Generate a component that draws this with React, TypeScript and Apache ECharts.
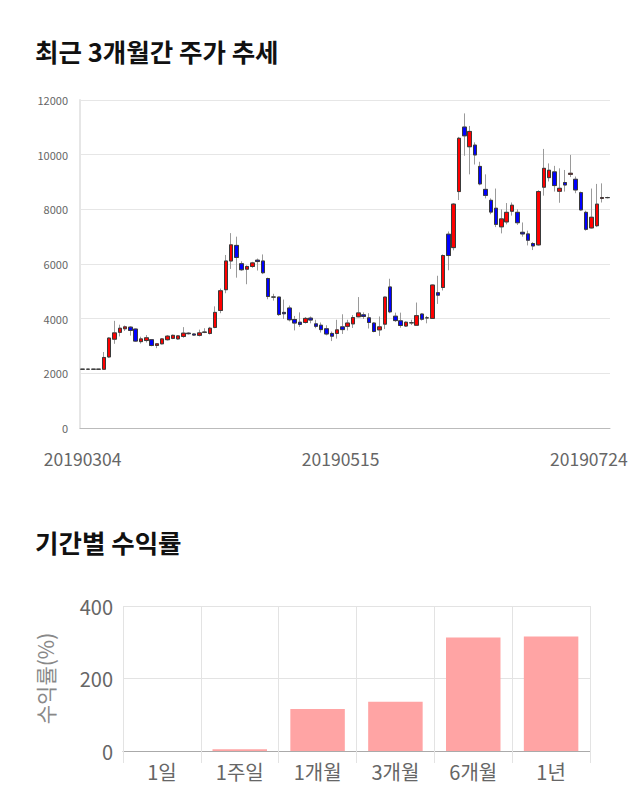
import React, { useEffect, useRef } from "react";
import * as echarts from "echarts";

const dates: string[] = [
  "20190304","20190305","20190306","20190307","20190308","20190311","20190312","20190313","20190314","20190315",
  "20190318","20190319","20190320","20190321","20190322","20190325","20190326","20190327","20190328","20190329",
  "20190401","20190402","20190403","20190404","20190405","20190408","20190409","20190410","20190411","20190412",
  "20190415","20190416","20190417","20190418","20190419","20190422","20190423","20190424","20190425","20190426",
  "20190429","20190430","20190502","20190503","20190507","20190508","20190509","20190510","20190513","20190514",
  "20190515","20190516","20190517","20190520","20190521","20190522","20190523","20190524","20190527","20190528",
  "20190529","20190530","20190531","20190603","20190604","20190605","20190607","20190610","20190611","20190612",
  "20190613","20190614","20190617","20190618","20190619","20190620","20190621","20190624","20190625","20190626",
  "20190627","20190628","20190701","20190702","20190703","20190704","20190705","20190708","20190709","20190710",
  "20190711","20190712","20190715","20190716","20190717","20190718","20190719","20190722","20190723","20190724",
];

const openP: number[] = [
  2150,2150,2150,2150,2150,2600,3250,3500,3630,3690,
  3620,3160,3200,3230,3020,3080,3230,3280,3260,3350,
  3470,3440,3390,3500,3460,3680,4300,5060,6110,6680,
  6010,5810,5910,6140,6110,5470,4790,4790,4230,4390,
  3970,3870,3860,4020,3810,3760,3630,3460,3460,3700,
  3720,3810,4070,4140,4030,3840,3590,3800,5160,4090,
  3920,3730,3850,3760,4170,4030,4010,4950,5140,7090,
  6600,8650,11010,10290,10350,9570,8730,8330,8040,7360,
  7540,7930,7890,7160,7100,6750,6700,8810,9160,9370,
  8660,8980,9280,9100,8610,7890,7320,7400,8400,8430,
];
const closeP: number[] = [
  2150,2150,2150,2150,2580,3290,3480,3650,3700,3570,
  3180,3260,3300,3020,3080,3260,3360,3390,3370,3470,
  3450,3400,3480,3510,3650,4230,5020,6110,6700,6240,
  5790,5910,6040,6090,5680,4810,4790,4150,4180,3960,
  3840,3790,4010,3950,3720,3600,3440,3360,3590,3600,
  3840,4040,4210,4080,3860,3530,3700,4790,4250,3930,
  3750,3870,3850,4110,3980,4030,5230,4860,6310,6310,
  8190,10600,10690,10850,9990,8930,8510,7900,7450,7650,
  7890,8150,7510,7100,6870,6660,8650,9500,9430,8870,
  8770,8890,9320,8710,7980,7270,7710,8190,8430,8430,
];
const lowP: number[] = [
  2140,2140,2140,2140,2130,2560,3080,3350,3550,3380,
  3150,3090,3130,2990,2920,3060,3200,3250,3230,3300,
  3420,3370,3350,3470,3420,3650,4200,4930,5820,5500,
  5750,5260,5860,5760,5630,4710,4660,4100,3990,3900,
  3570,3700,3820,3830,3650,3490,3390,3180,3270,3440,
  3570,3660,4050,3990,3640,3500,3370,3620,4200,3880,
  3670,3700,3770,3740,3930,3830,4000,4540,5030,5770,
  6500,8340,9960,9280,9640,8880,8400,7820,7350,7120,
  7450,7770,7430,7000,6680,6510,6670,8500,9020,8650,
  8240,8650,9180,8590,7950,7220,7300,7350,8250,8400,
];
const highP: number[] = [
  2160,2160,2160,2160,2780,3320,3920,3780,3750,3720,
  3640,3340,3400,3250,3110,3290,3400,3420,3400,3690,
  3500,3460,3600,3650,3700,4450,5100,6330,7130,7000,
  6100,5950,6080,6200,6350,5500,4910,4800,4700,4480,
  4100,4230,4060,4080,3960,3860,3760,3530,3960,4160,
  3960,4130,4790,4230,4200,3870,4080,4800,5460,4220,
  4220,3900,3960,4590,4200,4100,5250,5570,6350,7190,
  8230,10650,11510,11050,10450,9740,9280,8400,8760,8000,
  8230,8250,8000,7520,7220,6800,8700,10210,9680,9590,
  9500,9440,9990,9200,8650,7950,8760,8930,8950,8460,
];

const priceTicks = { min: 0, max: 12000, interval: 2000 };

const periods: string[] = ["1일", "1주일", "1개월", "3개월", "6개월", "1년"];
const returns: number[] = [0, 5, 116, 136, 313, 316];
const returnTicks = { min: 0, max: 400, interval: 200 };

const FONT = '"Noto Sans CJK KR", "Noto Sans", sans-serif';

export default function App() {
  const ref = useRef<HTMLDivElement>(null);
  useEffect(() => {
    if (!ref.current) return;
    const chart = echarts.init(ref.current, undefined, { renderer: "svg" });
    const candleData = dates.map((_, i) => [openP[i], closeP[i], lowP[i], highP[i]]);
    const bodyData = dates.map((_, i) => [
      openP[i],
      closeP[i],
      Math.min(openP[i], closeP[i]),
      Math.max(openP[i], closeP[i]),
    ]);
    const lastIdx = dates.length - 1;
    const midIdx = 50;
    chart.setOption({
      animation: false,
      textStyle: { fontFamily: FONT },
      title: [
        {
          text: "최근 3개월간 주가 추세",
          left: 30,
          top: 33,
          textStyle: { fontFamily: FONT, fontSize: 25.5, fontWeight: "bold", color: "#111" },
        },
        {
          text: "기간별 수익률",
          left: 30,
          top: 524,
          textStyle: { fontFamily: FONT, fontSize: 25.5, fontWeight: "bold", color: "#111" },
        },
      ],
      grid: [
        { left: 80, right: 30, top: 100, bottom: 382 },
        { left: 123, right: 50, top: 606, bottom: 59 },
      ],
      xAxis: [
        {
          type: "category",
          gridIndex: 0,
          data: dates,
          boundaryGap: true,
          axisLine: { lineStyle: { color: "#bbbbbb" } },
          axisTick: { show: false },
          splitLine: { show: false },
          axisLabel: {
            interval: (idx: number) => idx === 0 || idx === midIdx || idx === lastIdx,
            margin: 22,
            color: "#666",
            fontSize: 17.5,
            fontFamily: FONT,
            formatter: (v: string, idx: number) => {
              if (idx === lastIdx) return "{r|" + v + "}";
              if (idx === midIdx) return "{m|" + v + "}";
              return v;
            },
            rich: {
              r: { padding: [0, 37, 0, 0], color: "#666", fontSize: 17.5, fontFamily: FONT },
              m: { padding: [0, 14, 0, 0], color: "#666", fontSize: 17.5, fontFamily: FONT },
            },
          },
        },
        {
          type: "category",
          gridIndex: 1,
          data: periods,
          boundaryGap: true,
          axisLine: { lineStyle: { color: "#aaaaaa" } },
          axisTick: { show: true, length: 12, lineStyle: { color: "#e3e3e3" } },
          splitLine: { show: true, lineStyle: { color: "#e3e3e3" } },
          axisLabel: { color: "#666", fontSize: 20, fontFamily: FONT, margin: 10 },
        },
      ],
      yAxis: [
        {
          type: "value",
          gridIndex: 0,
          ...priceTicks,
          axisLine: { show: true, lineStyle: { color: "#e6e6e6", width: 2 } },
          axisTick: { show: false },
          splitLine: { lineStyle: { color: "#e6e6e6" } },
          axisLabel: {
            color: "#666",
            fontSize: 11,
            margin: 12,
            fontFamily: FONT,
            formatter: (v: number) => String(v),
          },
        },
        {
          type: "value",
          gridIndex: 1,
          ...returnTicks,
          name: "수익률(%)",
          nameLocation: "middle",
          nameRotate: 90,
          nameGap: 68,
          nameTextStyle: { color: "#888", fontSize: 21, fontFamily: FONT },
          axisLine: { show: false },
          axisTick: { show: false },
          splitLine: { lineStyle: { color: "#e3e3e3" } },
          axisLabel: { color: "#666", fontSize: 20, margin: 10, fontFamily: FONT },
        },
      ],
      series: [
        {
          type: "candlestick",
          xAxisIndex: 0,
          yAxisIndex: 0,
          data: candleData,
          barWidth: 4,
          itemStyle: {
            color: "#ff0000",
            color0: "#0000ff",
            borderColor: "#9a9a9a",
            borderColor0: "#9a9a9a",
            borderWidth: 1,
          },
        },
        {
          type: "candlestick",
          xAxisIndex: 0,
          yAxisIndex: 0,
          data: bodyData,
          barWidth: 4,
          itemStyle: {
            color: "#ff0000",
            color0: "#0000ff",
            borderColor: "#3a3a3a",
            borderColor0: "#3a3a3a",
            borderWidth: 1,
          },
        },
        {
          type: "bar",
          xAxisIndex: 1,
          yAxisIndex: 1,
          data: returns,
          barWidth: "70%",
          itemStyle: { color: "#ffa4a4", borderWidth: 0 },
        },
      ],
    });
    return () => chart.dispose();
  }, []);
  return (
    <div
      ref={ref}
      style={{ position: "absolute", left: 0, top: 0, width: 640, height: 810, background: "#fff" }}
    />
  );
}
